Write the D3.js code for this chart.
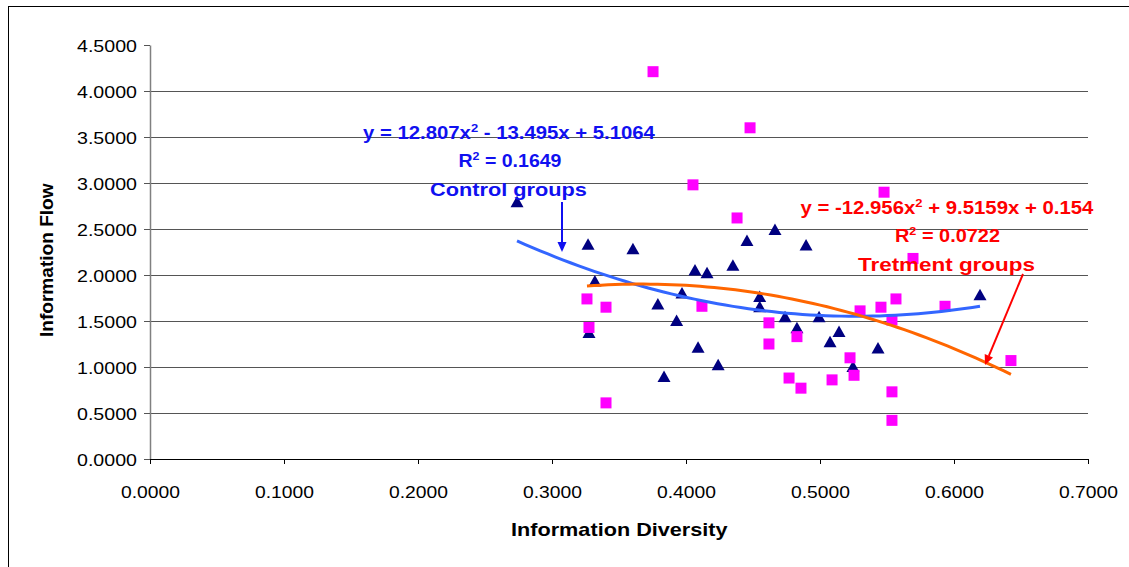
<!DOCTYPE html>
<html><head><meta charset="utf-8">
<script src="https://cdn.jsdelivr.net/npm/d3@7"></script>
<style>
body{margin:0;background:#fff}
svg{display:block}
text{font-family:"Liberation Sans",Arial,Helvetica,sans-serif}
</style>
</head><body>
<svg id="chart" width="1129" height="567"></svg>
<script>
// ---------------- data ----------------
const controlX = [0.2739,0.3269,0.3276,0.3320,0.3604,0.3790,0.3970,0.3930,0.3836,0.4067,0.4157,0.4090,0.4240,0.4350,0.4455,0.4664,0.4896,0.4550,0.4550,0.4739,0.4828,0.4993,0.5075,0.5142,0.5246,0.5433,0.6194];
const controlY = [2.79,2.33,1.37,1.93,2.28,1.68,1.80,1.50,0.89,2.05,2.02,1.21,1.02,2.10,2.37,2.49,2.32,1.76,1.65,1.54,1.42,1.54,1.27,1.38,1.00,1.20,1.78];
const treatX = [0.3754,0.4478,0.4052,0.4381,0.5478,0.3261,0.3276,0.3403,0.3403,0.4119,0.4619,0.4619,0.4769,0.4828,0.4858,0.5090,0.5224,0.5254,0.5299,0.5455,0.5537,0.5537,0.5537,0.5567,0.5694,0.5933,0.6425];
const treatY = [4.21,3.60,2.98,2.62,2.90,1.74,1.43,1.65,0.61,1.66,1.48,1.25,0.88,1.33,0.77,0.86,1.10,0.91,1.61,1.65,1.51,0.73,0.42,1.74,2.18,1.66,1.07];
// polynomial trendline coefficients [a, b, c] : y = a x^2 + b x + c
const controlFit = [12.807, -13.495, 5.1064];
const treatFit = [-12.956, 9.5159, 0.154];
const xTickValues = [0,0.1,0.2,0.3,0.4,0.5,0.6,0.7];
const yTickValues = [0,0.5,1,1.5,2,2.5,3,3.5,4,4.5];
const xTitle = "Information Diversity";
const yTitle = "Information Flow";
const controlLabels = ["y = 12.807x|2| - 13.495x + 5.1064", "R|2| = 0.1649", "Control groups"];
const treatLabels = ["y = -12.956x|2| + 9.5159x + 0.154", "R|2| = 0.0722", "Tretment groups"];

// ---------------- drawing ----------------
const svg = d3.select("#chart");
const X0 = 150, X1 = 1088, Y0 = 459, Y1 = 45;
const x = d3.scaleLinear().domain([0,0.7]).range([X0,X1]);
const y = d3.scaleLinear().domain([0,4.5]).range([Y0,Y1]);
const fmt = d3.format(".4f");

// outer frame
svg.append("rect").attr("x",8.5).attr("y",6.5).attr("width",1140).attr("height",600)
  .attr("fill","none").attr("stroke","#000").attr("stroke-width",1);

// gridlines
svg.append("g").selectAll("line").data(yTickValues.filter(v=>v>0 && v<4.5)).join("line")
  .attr("x1",X0).attr("x2",X1).attr("y1",d=>Math.round(y(d))+0.5).attr("y2",d=>Math.round(y(d))+0.5)
  .attr("stroke","#555").attr("stroke-width",1);

function fitText(t, cx, baseline, w, anchor) {
  t.attr("x",0).attr("y",0).attr("dy",null).attr("text-anchor","start");
  const nat = t.node().getBBox().width;
  let left = cx - w/2;
  if (anchor === "end") left = cx - w;
  if (anchor === "start") left = cx;
  t.attr("transform",`translate(${left},${baseline}) scale(${w/nat},1)`);
}

// y axis
const yAxis = svg.append("g").attr("transform",`translate(${X0},0)`)
  .call(d3.axisLeft(y).tickValues(yTickValues).tickFormat(fmt).tickSize(6).tickSizeOuter(0));
yAxis.select(".domain").attr("stroke","#808080").attr("stroke-width",1.5);
yAxis.selectAll(".tick line").attr("stroke","#555");
yAxis.selectAll(".tick text").attr("font-size",17).attr("fill","#000").each(function(d){
  const t = d3.select(this); fitText(t, -13, 6, 60, "end");
});

// x axis
const xAxis = svg.append("g").attr("transform",`translate(0,${Y0})`)
  .call(d3.axisBottom(x).tickValues(xTickValues).tickFormat(fmt).tickSize(5).tickSizeOuter(0));
xAxis.select(".domain").attr("stroke","#000").attr("stroke-width",1);
xAxis.selectAll(".tick line").attr("stroke","#000");
xAxis.selectAll(".tick text").attr("font-size",17).attr("fill","#000").each(function(d){
  const t = d3.select(this); fitText(t, 0, 39, 59, "middle");
});

// axis titles
const xt = svg.append("text").attr("font-size",17.5).attr("font-weight","bold").attr("fill","#000").text(xTitle);
fitText(xt, 619.5, 536, 217, "middle");
const ytg = svg.append("g").attr("transform","translate(53,260) rotate(-90)");
const yt = ytg.append("text").attr("font-size",17.5).attr("font-weight","bold").attr("fill","#000").text(yTitle);
fitText(yt, 0, 0, 154, "middle");

// markers
const controlPts = controlX.map((v,i)=>[v,controlY[i]]);
const treatPts = treatX.map((v,i)=>[v,treatY[i]]);
svg.append("g").selectAll("path").data(controlPts).join("path")
  .attr("d","M0,-6.5L6.5,5L-6.5,5Z").attr("fill","#000080")
  .attr("transform",d=>`translate(${x(d[0])},${y(d[1])})`);
svg.append("g").selectAll("rect").data(treatPts).join("rect")
  .attr("x",d=>x(d[0])-5.5).attr("y",d=>y(d[1])-5.5).attr("width",11).attr("height",11)
  .attr("fill","#ff00ff");

// trendlines
function trend(coef, xs, color) {
  const lo = d3.min(xs), hi = d3.max(xs);
  const pts = d3.range(0,61).map(i=>{ const xv = lo + (hi-lo)*i/60; return [xv, coef[0]*xv*xv + coef[1]*xv + coef[2]]; });
  svg.append("path").datum(pts).attr("fill","none").attr("stroke",color).attr("stroke-width",3)
    .attr("d", d3.line().x(d=>x(d[0])).y(d=>y(d[1])));
}
trend(controlFit, controlX, "#3366ff");
trend(treatFit, treatX, "#ff6600");

// annotations
function label(str, cx, baseline, w, color) {
  const t = svg.append("text").attr("font-size",18).attr("font-weight","bold").attr("fill",color);
  const parts = str.split("|");
  parts.forEach((p,i)=>{
    if (i % 2 === 1) t.append("tspan").attr("font-size",11.5).attr("dy",-7).text(p);
    else t.append("tspan").attr("dy", i>0 ? 7 : 0).text(p);
  });
  fitText(t, cx, baseline, w, "middle");
}
const blue = "#1010f0", red = "#ff0000";
label(controlLabels[0], 509, 139, 292, blue);
label(controlLabels[1], 510, 166.5, 103, blue);
label(controlLabels[2], 508.5, 196, 157, blue);
label(treatLabels[0], 947, 213.5, 293, red);
label(treatLabels[1], 947.5, 242, 105, red);
label(treatLabels[2], 946.5, 270.5, 177, red);

// arrows
function arrow(x1,y1,x2,y2,color) {
  const ang = Math.atan2(y2-y1,x2-x1), L = 10, W = 4.5;
  const bx = x2 - L*Math.cos(ang), by = y2 - L*Math.sin(ang);
  svg.append("line").attr("x1",x1).attr("y1",y1).attr("x2",bx).attr("y2",by)
    .attr("stroke",color).attr("stroke-width",2);
  const px = -Math.sin(ang)*W, py = Math.cos(ang)*W;
  svg.append("path").attr("d",`M${x2},${y2}L${bx+px},${by+py}L${bx-px},${by-py}Z`).attr("fill",color);
}
arrow(562, 202, 562, 252, blue);
arrow(1023, 274, 985, 365, red);
</script>
</body></html>
